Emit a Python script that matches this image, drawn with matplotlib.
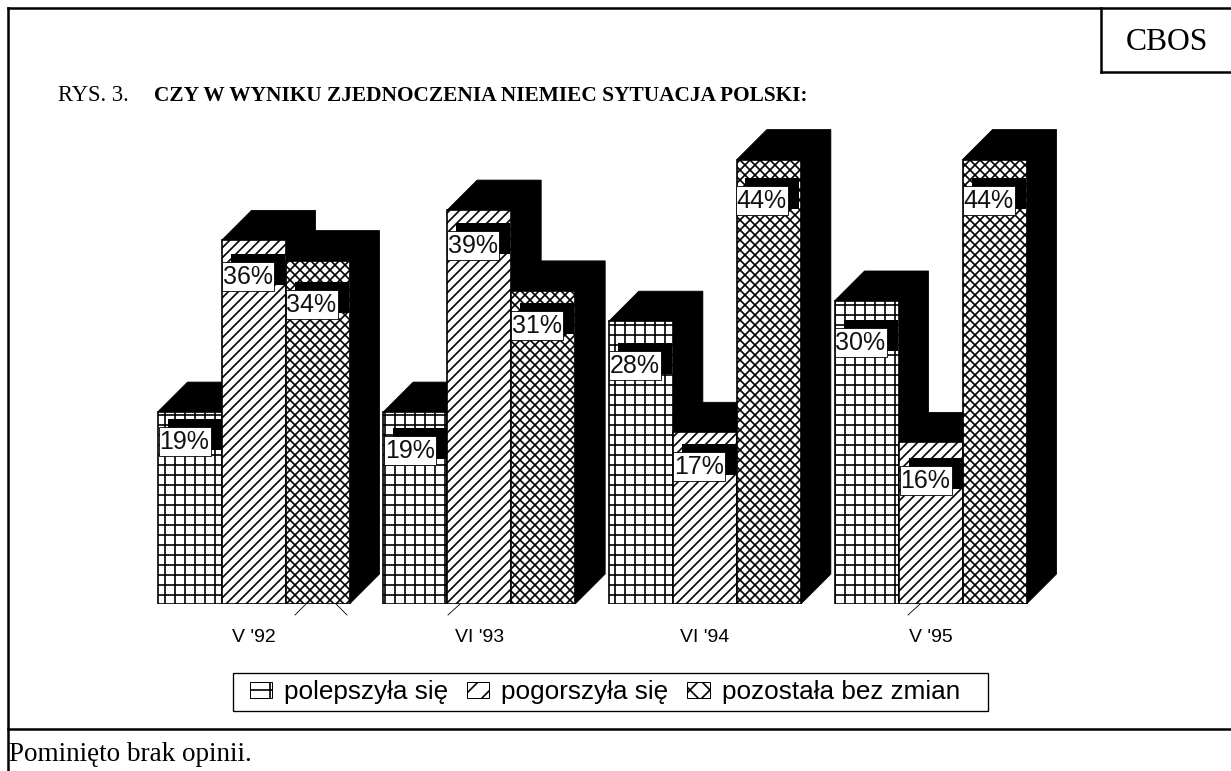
"""Rys. 3 - CBOS, zjednoczenie Niemiec a sytuacja Polski (słupki z cieniem)."""
import matplotlib
matplotlib.use("Agg")
import matplotlib.pyplot as plt
from matplotlib.lines import Line2D
from matplotlib.patches import Patch, Rectangle
from matplotlib.transforms import Affine2D

W, H, DPI = 1231, 771, 120

okresy = ["V '92", "VI '93", "VI '94", "V '95"]
polepszyla = [19, 19, 28, 30]
pogorszyla = [36, 39, 17, 16]
bez_zmian = [34, 31, 44, 44]
nazwy = ["polepszyła się", "pogorszyła się", "pozostała bez zmian"]

# przesunięcie etykiety względem górnego lewego rogu słupka (piksele)
etykiety_dx = [[1, 0, 0], [1, 0, 0], [0, 0, -1], [0, 1, 0]]
etykiety_dy = [[15, 22, 29], [24, 21, 20], [30, 20, 26], [27, 24, 26]]

plt.rcParams["font.family"] = ["Liberation Sans", "DejaVu Sans"]
plt.rcParams["hatch.linewidth"] = 1.0

fig = plt.figure(figsize=(W / DPI, H / DPI), dpi=DPI, facecolor="white")
pix = Affine2D().scale(1, -1).translate(0, H)  # piksele, y od góry


def fx(p):
    return p / W


def fy(p):
    return 1 - p / H


# osie: 225.67 px na grupę, 10.1 px na punkt procentowy, podstawa y=604
ax = fig.add_axes([fx(100), fy(604), 1000 / W, 504 / H])
ax.set_xlim((100 - 253.5) / 225.67, (1100 - 253.5) / 225.67)
ax.set_ylim(0, 504 / 10.1)
ax.patch.set_visible(False)
for s in ax.spines.values():
    s.set_visible(False)
ax.set_yticks([])

szer = 64 / 225.67
gl_x = 30 / 225.67
gl_y = 30 / 10.1
serie = [polepszyla, pogorszyla, bez_zmian]
wzory = ["++", "////", "xxxx"]
grupy = range(len(okresy))

ax.set_xticks(list(grupy))
ax.set_xticklabels(okresy, fontsize=11.7)
ax.tick_params(axis="x", length=0, pad=15)

# czarne ściany (góra i bok) pod frontami
for k, wartosci in enumerate(serie):
    for g, v in zip(grupy, wartosci):
        x0 = g + (k - 1.5) * szer
        x1 = x0 + szer
        ax.fill([x0, x0 + gl_x, x1 + gl_x, x1 + gl_x, x1, x1, x0],
                [v, v + gl_y, v + gl_y, gl_y, 0, v, v],
                color="black", lw=0.5, zorder=1)

for k, wartosci in enumerate(serie):
    ax.bar([g + (k - 1) * szer for g in grupy], wartosci, width=szer,
           facecolor="white", edgecolor="black", linewidth=1.0,
           hatch=wzory[k], zorder=2)

# etykiety z czarnym cieniem
for k, wartosci in enumerate(serie):
    for g, v in zip(grupy, wartosci):
        px, py = ax.transData.transform((g + (k - 1.5) * szer, v))
        lewy = px + etykiety_dx[g][k]
        gora = H - py + etykiety_dy[g][k]
        ax.add_patch(Rectangle((lewy + 9, gora - 8), 54, 31, transform=pix,
                               facecolor="black", edgecolor="none", zorder=3))
        ax.add_patch(Rectangle((lewy, gora), 52, 29, transform=pix,
                               facecolor="white", edgecolor="black", lw=0.5, zorder=4))
        ax.text(lewy + 26, gora + 15, f"{v}%", transform=pix, fontsize=15,
                ha="center", va="center", color="#111111", zorder=5)

# kreski pod osią, jak w oryginale
for x0, x1 in [(295, 306), (347, 336), (448, 460), (908, 920)]:
    ax.add_line(Line2D([x0, x1], [615, 604], transform=pix, color="black",
                       lw=0.5, clip_on=False, zorder=2))

# legenda: ramka osobno, bo odstępy boczne są większe niż górne
fig.add_artist(Rectangle((fx(233), fy(711)), 755 / W, 38 / H, transform=fig.transFigure,
                         facecolor="white", edgecolor="black", lw=0.8))
uchwyty = [Patch(facecolor="white", edgecolor="black", lw=0.6, hatch=w)
           for w in ["+", "//", "xx"]]
leg = fig.legend(uchwyty, nazwy, ncol=3, loc="center",
                 bbox_to_anchor=(fx(605), fy(692)), fontsize=15.65, frameon=False,
                 handlelength=0.85, handleheight=0.55, handletextpad=0.46,
                 columnspacing=0.72, borderpad=0, borderaxespad=0)
leg.set_zorder(5)

# ramki strony
for xs, ys in [((8, 1231), (8, 8)), ((8, 8), (8, 771)), ((8, 1231), (729, 729)),
               ((1101, 1101), (8, 72)), ((1101, 1231), (72, 72))]:
    fig.add_artist(Line2D([fx(x) for x in xs], [fy(y) for y in ys],
                          color="black", lw=1.5))

fig.text(fx(1126), fy(50), "CBOS", family="Liberation Serif", fontsize=19)
fig.text(fx(58), fy(101), "RYS. 3.", family="Liberation Serif", fontsize=13.5)
fig.text(fx(154), fy(101), "CZY W WYNIKU ZJEDNOCZENIA NIEMIEC SYTUACJA POLSKI:",
         family="Liberation Serif", weight="bold", fontsize=12.8)
fig.text(fx(9), fy(761), "Pominięto brak opinii.", family="Liberation Serif",
         fontsize=16.3)

fig.savefig("out.png", dpi=DPI)
plt.close(fig)
